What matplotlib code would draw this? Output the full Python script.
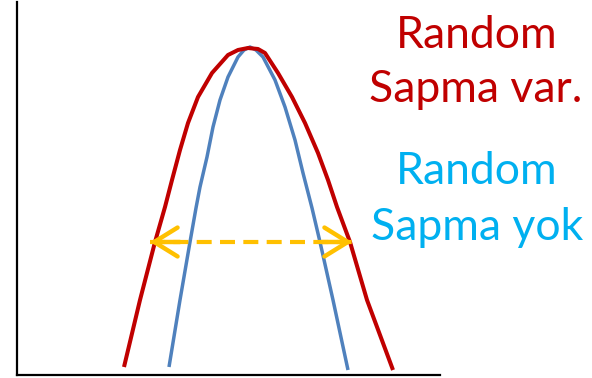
import matplotlib
matplotlib.use("Agg")
import matplotlib.pyplot as plt

# Curve data (x along axis, y height above axis)
red_x = [107, 123, 138, 148, 155, 163, 171, 181, 195, 211, 221, 231, 241, 248, 261, 275, 288, 301, 311, 320, 333, 350, 376]
red_y = [8, 75, 133, 168, 195, 225, 252, 278, 302, 320, 325, 327, 326, 322, 302, 278, 252, 222, 195, 168, 133, 75, 5]
blue_x = [152, 163, 173, 179, 183, 190, 196, 203, 211, 221, 227, 233, 239, 246, 258, 268, 278, 286, 295, 303, 316, 331]
blue_y = [8, 75, 133, 167, 188, 218, 248, 275, 298, 318, 325, 328, 325, 318, 295, 268, 235, 202, 167, 133, 75, 5]
arrow_x = [133, 335]
arrow_y = 133

labels_red = ["Random", "Sapma var."]
labels_blue = ["Random", "Sapma yok"]

W, H = 592, 378
fig = plt.figure(figsize=(W / 100, H / 100), dpi=100)
ax = fig.add_axes([17 / W, 3 / H, 423 / W, 373 / H])
ax.set_xlim(0, 423)
ax.set_ylim(0, 373)
for s in ["top", "right"]:
    ax.spines[s].set_visible(False)
for s in ["left", "bottom"]:
    ax.spines[s].set_linewidth(1.6)
    ax.spines[s].set_color("black")
ax.set_xticks([])
ax.set_yticks([])

ax.plot(red_x, red_y, color="#C00000", lw=2.9, solid_joinstyle="round", solid_capstyle="butt", zorder=3)
ax.plot(blue_x, blue_y, color="#4F81BD", lw=2.5, solid_joinstyle="round", solid_capstyle="butt", zorder=2)

orange = "#FFC000"
ax.plot(arrow_x, [arrow_y, arrow_y], color=orange, lw=3, dashes=(3.6, 2.0), zorder=4)
for tip, tail in [(arrow_x[0], arrow_x[0] + 30), (arrow_x[1], arrow_x[1] - 30)]:
    ax.annotate("", xy=(tip, arrow_y), xytext=(tail, arrow_y),
                arrowprops=dict(arrowstyle="->,head_length=0.42,head_width=0.26", color=orange,
                                lw=3.2, mutation_scale=40, shrinkA=0, shrinkB=0), zorder=5)

font = "Lato"
fs = 32
fig.text(477 / W, 1 - 48 / H, labels_red[0], color="#C00000", fontsize=fs, family=font,
         ha="center", va="baseline")
fig.text(476 / W, 1 - 102 / H, labels_red[1], color="#C00000", fontsize=fs, family=font,
         ha="center", va="baseline")
fig.text(477 / W, 1 - 184 / H, labels_blue[0], color="#00B0F0", fontsize=fs, family=font,
         ha="center", va="baseline")
fig.text(477 / W, 1 - 240 / H, labels_blue[1], color="#00B0F0", fontsize=fs, family=font,
         ha="center", va="baseline")

fig.savefig("out.png", dpi=100)
